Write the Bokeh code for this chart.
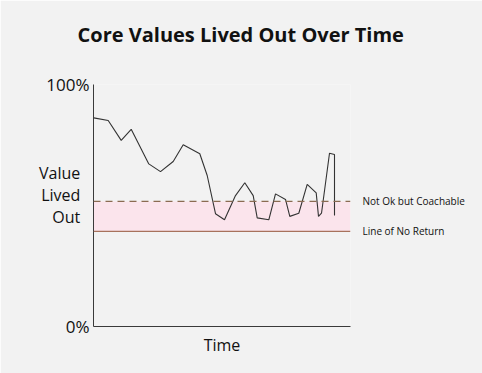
from bokeh.plotting import figure
from bokeh.models import Range1d, BoxAnnotation, Span, LinearAxis, FixedTicker
from bokeh.embed import file_html
from bokeh.resources import INLINE

# Data
time = [0.3, 14.7, 27.7, 37.7, 55.3, 67, 79.7, 89.7, 106.3, 113.7, 122, 131, 142, 151.3,
        159.7, 163.7, 175.3, 182, 192, 196.3, 205.3, 213.7, 222.7, 225, 228, 236, 241, 241]
value = [86.2, 85.1, 76.9, 81.5, 67.2, 64.0, 68.2, 75.1, 71.4, 62.4, 46.6, 44.1, 54.1, 59.4,
         54.1, 44.9, 44.1, 54.8, 52.5, 45.5, 46.8, 58.7, 55.2, 45.5, 46.8, 71.6, 71.1, 45.9]
coachable_level = 51.7
no_return_level = 39.3
y_tick_values = [0, 100]
y_tick_labels = ["0%", "100%"]
title_text = "Core Values Lived Out Over Time\n"
y_label = "Value\nLived\nOut\n"
x_label = "Time"
coachable_label = "Not Ok but Coachable"
no_return_label = "Line of No Return"

BG = "#f2f2f2"
FONT = "Open Sans"
TXT = "#111111"

p = figure(width=482, height=373, output_backend="svg", toolbar_location=None,
           x_range=Range1d(0, 257), y_range=Range1d(0, 100),
           min_border_left=93, min_border_right=132, min_border_top=84, min_border_bottom=47,
           background_fill_color=BG, border_fill_color=BG, outline_line_color=None)
p.grid.visible = False

# title
p.title.text = title_text
p.title.text_font = FONT
p.title.text_font_size = "20px"
p.title.text_font_style = "bold"
p.title.text_color = TXT
p.title.align = "left"
p.title.offset = -16
p.title.standoff = 20

for ax in (p.xaxis, p.yaxis):
    ax.axis_line_color = "#3a3a3a"
    ax.axis_line_width = 1
    ax.major_tick_line_color = None
    ax.minor_tick_line_color = None
    ax.major_label_text_font = FONT
    ax.axis_label_text_font = FONT
    ax.axis_label_text_font_style = "normal"
    ax.axis_label_text_color = TXT
    ax.major_label_text_color = TXT

p.xaxis.ticker = FixedTicker(ticks=[])
p.xaxis.axis_label = x_label
p.xaxis.axis_label_text_font_size = "16px"
p.xaxis.axis_label_standoff = 7

p.yaxis.ticker = FixedTicker(ticks=y_tick_values)
p.yaxis.major_label_overrides = dict(zip(y_tick_values, y_tick_labels))
p.yaxis.major_label_text_font_size = "17px"
p.yaxis.major_label_standoff = -2
p.yaxis.axis_label = y_label
p.yaxis.axis_label_orientation = "horizontal"
p.yaxis.axis_label_text_font_size = "16px"
p.yaxis.axis_label_text_align = "right"
p.yaxis.axis_label_text_line_height = 1.0
p.yaxis.axis_label_standoff = -37

# right axis carrying the threshold names
levels = [no_return_level, coachable_level]
ra = LinearAxis(ticker=FixedTicker(ticks=levels),
                major_label_overrides={no_return_level: no_return_label, coachable_level: coachable_label},
                axis_line_color=None, major_tick_line_color=None, minor_tick_line_color=None,
                major_label_standoff=6, major_label_text_font=FONT,
                major_label_text_font_size="10px", major_label_text_color=TXT)
p.add_layout(ra, "right")

# band and lines
p.add_layout(BoxAnnotation(bottom=no_return_level, top=coachable_level, fill_color="#fbe4ec",
                           fill_alpha=1.0, line_color=None, level="underlay"))
p.add_layout(Span(location=no_return_level, dimension="width", line_color="#a7725c", line_width=1.3))
p.add_layout(Span(location=coachable_level, dimension="width", line_color="#8a6b52",
                  line_width=1.3, line_dash="7 5"))

p.line(time, value, line_color="#333333", line_width=1.1)

open("out.html", "w").write(file_html(p, INLINE))
